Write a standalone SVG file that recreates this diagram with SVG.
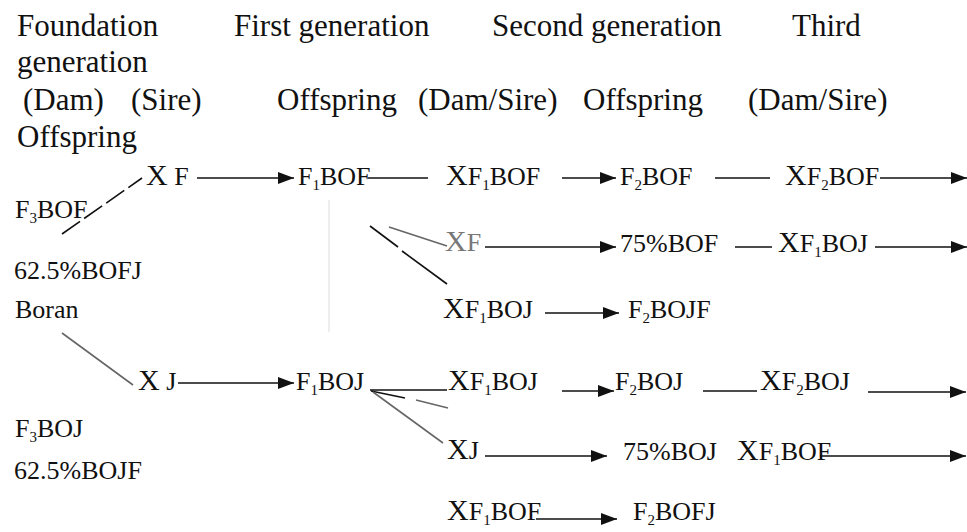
<svg xmlns="http://www.w3.org/2000/svg" width="967" height="532" viewBox="0 0 967 532">
<style>
text{font-family:"Liberation Serif","Times New Roman",serif;fill:#111}
.h{font-size:31px}
.s{font-size:26px}
.x{font-size:30px}
.sub{font-size:15px}
.grey{fill:#777}
.c{stroke:#111;stroke-width:1.6;fill:none}
.g{stroke:#666;stroke-width:1.6;fill:none}
.a{marker-end:url(#ah)}
</style>
<defs>
<marker id="ah" markerUnits="userSpaceOnUse" markerWidth="17" markerHeight="12" refX="16" refY="6" orient="auto">
<path d="M0,0 L16,6 L0,12 Z" fill="#111"/>
</marker>
</defs>
<rect width="967" height="532" fill="#fff"/>
<g id="headers">
<text class="h" x="17" y="36">Foundation</text>
<text class="h" x="234" y="36">First generation</text>
<text class="h" x="492" y="36">Second generation</text>
<text class="h" x="792" y="36">Third</text>
<text class="h" x="17" y="72">generation</text>
<text class="h" x="23" y="110">(Dam)</text>
<text class="h" x="131" y="110">(Sire)</text>
<text class="h" x="277" y="110">Offspring</text>
<text class="h" x="418" y="110">(Dam/Sire)</text>
<text class="h" x="583" y="110">Offspring</text>
<text class="h" x="748" y="110">(Dam/Sire)</text>
<text class="h" x="17" y="147">Offspring</text>
</g>
<g id="n-f3bof"><text class="s" x="15" y="218">F<tspan class="sub" dy="5">3</tspan><tspan dy="-5">BOF</tspan></text></g>
<g id="n-625bofj"><text class="s" x="14" y="279">62.5%BOFJ</text></g>
<g id="n-boran"><text class="s" x="15" y="318">Boran</text></g>
<g id="n-f3boj"><text class="s" x="15" y="437">F<tspan class="sub" dy="5">3</tspan><tspan dy="-5">BOJ</tspan></text></g>
<g id="n-625bojf"><text class="s" x="14" y="479">62.5%BOJF</text></g>
<g id="n-xf"><text class="s" x="146" y="185"><tspan class="x">X</tspan> F</text></g>
<g id="n-xj"><text class="s" x="138" y="390"><tspan class="x">X</tspan> J</text></g>
<g id="n-f1bof"><text class="s" x="298" y="185">F<tspan class="sub" dy="5">1</tspan><tspan dy="-5">BOF</tspan></text></g>
<g id="n-f1boj"><text class="s" x="296" y="390">F<tspan class="sub" dy="5">1</tspan><tspan dy="-5">BOJ</tspan></text></g>
<g id="n-xf1bof-a"><text class="s" x="446" y="185"><tspan class="x">X</tspan>F<tspan class="sub" dy="5">1</tspan><tspan dy="-5">BOF</tspan></text></g>
<g id="n-xf-b"><text class="s grey" x="445" y="251"><tspan class="x grey">X</tspan>F</text></g>
<g id="n-xf1boj-c"><text class="s" x="443" y="318"><tspan class="x">X</tspan>F<tspan class="sub" dy="5">1</tspan><tspan dy="-5">BOJ</tspan></text></g>
<g id="n-xf1boj-d"><text class="s" x="448" y="390"><tspan class="x">X</tspan>F<tspan class="sub" dy="5">1</tspan><tspan dy="-5">BOJ</tspan></text></g>
<g id="n-xj-e"><text class="s" x="447" y="459"><tspan class="x">X</tspan>J</text></g>
<g id="n-xf1bof-f"><text class="s" x="447" y="520"><tspan class="x">X</tspan>F<tspan class="sub" dy="5">1</tspan><tspan dy="-5">BOF</tspan></text></g>
<g id="n-f2bof"><text class="s" x="620" y="185">F<tspan class="sub" dy="5">2</tspan><tspan dy="-5">BOF</tspan></text></g>
<g id="n-75bof"><text class="s" x="620" y="252">75%BOF</text></g>
<g id="n-f2bojf"><text class="s" x="628" y="318">F<tspan class="sub" dy="5">2</tspan><tspan dy="-5">BOJF</tspan></text></g>
<g id="n-f2boj"><text class="s" x="615" y="390">F<tspan class="sub" dy="5">2</tspan><tspan dy="-5">BOJ</tspan></text></g>
<g id="n-75boj"><text class="s" x="623" y="460">75%BOJ</text></g>
<g id="n-f2bofj"><text class="s" x="633" y="520">F<tspan class="sub" dy="5">2</tspan><tspan dy="-5">BOFJ</tspan></text></g>
<g id="n-xf2bof"><text class="s" x="785" y="185"><tspan class="x">X</tspan>F<tspan class="sub" dy="5">2</tspan><tspan dy="-5">BOF</tspan></text></g>
<g id="n-xf1boj-b"><text class="s" x="778" y="252"><tspan class="x">X</tspan>F<tspan class="sub" dy="5">1</tspan><tspan dy="-5">BOJ</tspan></text></g>
<g id="n-xf2boj"><text class="s" x="760" y="390"><tspan class="x">X</tspan>F<tspan class="sub" dy="5">2</tspan><tspan dy="-5">BOJ</tspan></text></g>
<g id="n-xf1bof-e"><text class="s" x="737" y="460"><tspan class="x">X</tspan>F<tspan class="sub" dy="5">1</tspan><tspan dy="-5">BOF</tspan></text></g>
<g id="connectors">
<line x1="329" y1="200" x2="329" y2="332" stroke="#e2e2e2" stroke-width="1.2"/>
<line class="c" x1="62" y1="234" x2="142" y2="178" stroke-dasharray="22 5"/>
<line class="g" x1="62" y1="333" x2="133" y2="385"/>
<line class="c a" x1="197" y1="178" x2="294" y2="178"/>
<line class="c" x1="368" y1="178" x2="428" y2="178"/>
<line class="c a" x1="562" y1="178" x2="616" y2="178"/>
<line class="c" x1="715" y1="178" x2="770" y2="178"/>
<line class="c a" x1="880" y1="178" x2="967" y2="178"/>
<line class="g" x1="389" y1="227" x2="447" y2="246"/>
<line class="c" x1="370" y1="226" x2="398" y2="247"/>
<line class="c" x1="402" y1="251" x2="447" y2="284"/>
<line class="c a" x1="485" y1="247" x2="616" y2="247"/>
<line class="c" x1="735" y1="247" x2="772" y2="247"/>
<line class="c a" x1="875" y1="247" x2="967" y2="247"/>
<line class="c a" x1="545" y1="313" x2="619" y2="313"/>
<line class="c a" x1="178" y1="383" x2="294" y2="383"/>
<line class="c" x1="370" y1="390" x2="447" y2="390"/>
<line class="c" x1="371" y1="391" x2="405" y2="398"/>
<line class="g" x1="416" y1="400" x2="448" y2="408"/>
<line class="g" x1="373" y1="392" x2="443" y2="443"/>
<line class="c a" x1="562" y1="391" x2="614" y2="391"/>
<line class="c" x1="703" y1="391" x2="757" y2="391"/>
<line class="c a" x1="868" y1="392" x2="966" y2="392"/>
<line class="c a" x1="485" y1="456" x2="607" y2="456"/>
<line class="c a" x1="820" y1="456" x2="966" y2="456"/>
<line class="c a" x1="536" y1="519" x2="617" y2="519"/>
</g>
</svg>
